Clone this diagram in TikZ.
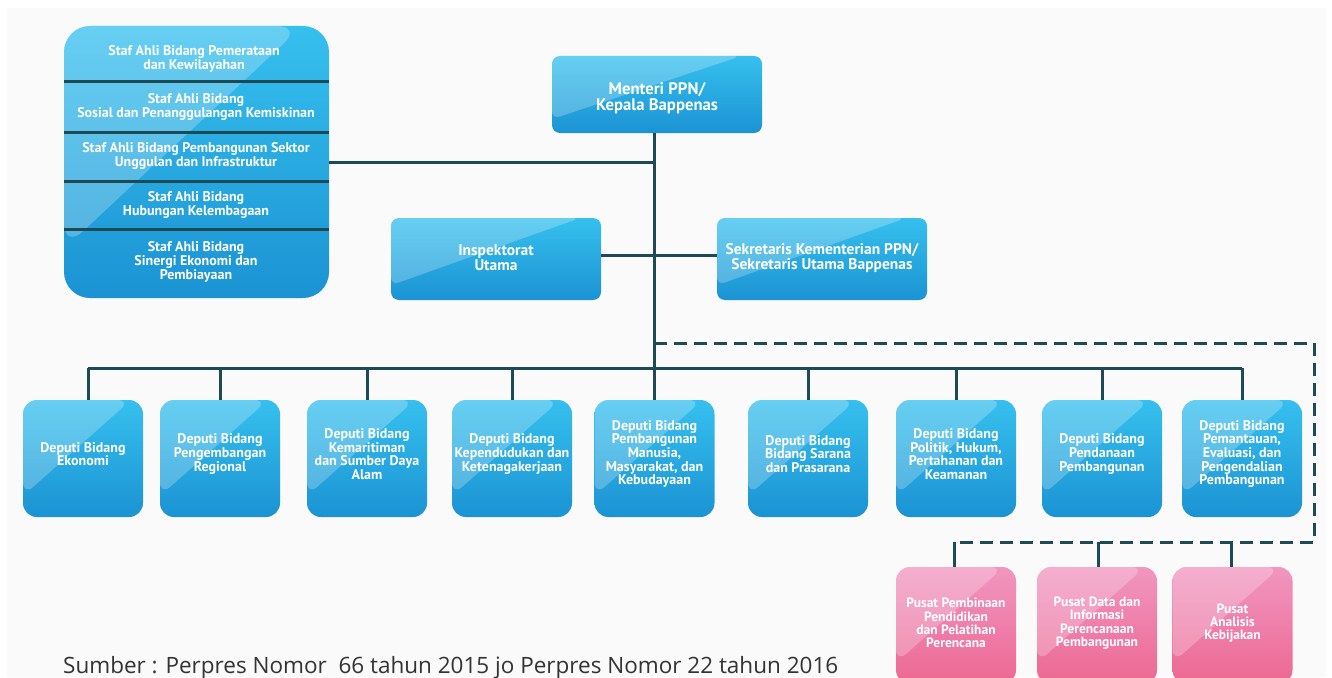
\documentclass[tikz,border=0pt]{standalone}
\usepackage{fontspec}
\setmainfont{Open Sans}
\newfontfamily\bx{PT Sans}
\usetikzlibrary{calc}
\definecolor{linec}{HTML}{1E4A54}
\definecolor{btop}{HTML}{36C0EE}
\definecolor{bbot}{HTML}{1B93D3}
\definecolor{ptop}{HTML}{F196C0}
\definecolor{pbot}{HTML}{EC6892}
\definecolor{bgc}{HTML}{FAFAFA}
\definecolor{footc}{HTML}{333333}
\tikzset{
  gloss/.style={path picture={\fill[white,opacity=0.24]
    ($(path picture bounding box.south west)!#1!(path picture bounding box.north west)$) --
    ($(path picture bounding box.north west)!0.9!(path picture bounding box.north east)$) --
    (path picture bounding box.north west) -- cycle;}},
  bbox/.style={draw=none, rounded corners=#1, top color=btop, bottom color=bbot, inner sep=0pt, gloss=0.18},
  pbox/.style={draw=none, rounded corners=14pt, top color=ptop, bottom color=pbot, inner sep=0pt, gloss=0.18,
    minimum width=120pt, minimum height=117pt},
  depbox/.style={bbox=14pt, minimum width=120pt, minimum height=117pt},
  txt/.style 2 args={text=white, align=center, inner sep=0pt, font=\bx\bfseries\fontsize{#1}{#2}\selectfont},
  conn/.style={draw=linec, line width=3pt},
  dconn/.style={draw=linec, line width=3pt, dash pattern=on 13pt off 7pt},
  divider/.style={draw=linec, line width=3pt},
}
\begin{document}
\begin{tikzpicture}[x=1pt,y=-1pt]
\useasboundingbox (0,0) rectangle (1332,677);
\clip (0,0) rectangle (1332,677);
\fill[white] (0,0) rectangle (1332,677);
\fill[bgc] (7,8) rectangle (1326,677);

% staff box
\node[bbox=26pt, minimum width=265pt, minimum height=272pt] (staf) at (196.5,162) {};
\foreach \yy in {81,132,181,229} \draw[divider] (staf.west |- 0,\yy) -- (staf.east |- 0,\yy);
\node[txt={14}{14}] (s1) at (194,59) {Staf Ahli Bidang Pemerataan\\dan Kewilayahan};
\node[txt={14}{14}] (s2) at (196,107) {Staf Ahli Bidang\\Sosial dan Penanggulangan Kemiskinan};
\node[txt={14}{14}] (s3) at (196,155.5) {Staf Ahli Bidang Pembangunan Sektor\\Unggulan dan Infrastruktur};
\node[txt={14}{14}] (s4) at (196,205) {Staf Ahli Bidang\\Hubungan Kelembagaan};
\node[txt={14}{14}] (s5) at (196,262) {Staf Ahli Bidang\\Sinergi Ekonomi dan\\Pembiayaan};

% top boxes
\node[bbox=8pt, minimum width=210pt, minimum height=77pt] (men) at (657,94.5) {};
\node[txt={16.7}{16}] (ment) at (657,98) {Menteri PPN/\\Kepala Bappenas};
\node[bbox=8pt, minimum width=210pt, minimum height=82pt] (insp) at (496,259) {};
\node[txt={15.5}{15}] (inspt) at (496,258) {Inspektorat\\Utama};
\node[bbox=8pt, minimum width=210pt, minimum height=82pt] (sek) at (822,259) {};
\node[txt={15.5}{15}] (sekt) at (822,258) {Sekretaris Kementerian PPN/\\Sekretaris Utama Bappenas};

% deputi boxes
\foreach \n/\xx/\t in {
  d1/83/{Deputi Bidang\\Ekonomi},
  d2/220/{Deputi Bidang\\Pengembangan\\Regional},
  d3/367/{Deputi Bidang\\Kemaritiman\\dan Sumber Daya\\Alam},
  d4/512/{Deputi Bidang\\Kependudukan dan\\Ketenagakerjaan},
  d5/654.5/{Deputi Bidang\\Pembangunan\\Manusia,\\Masyarakat, dan\\Kebudayaan},
  d6/808/{Deputi Bidang\\Bidang Sarana\\dan Prasarana},
  d7/956/{Deputi Bidang\\Politik, Hukum,\\Pertahanan dan\\Keamanan},
  d8/1102/{Deputi Bidang\\Pendanaan\\Pembangunan},
  d9/1242/{Deputi Bidang\\Pemantauan,\\Evaluasi, dan\\Pengendalian\\Pembangunan}} {
  \node[depbox] (\n) at (\xx,458.5) {};
  \node[txt={14}{13.6}] (\n t) at (\xx,454) {\t};
}

% pusat boxes
\foreach \n/\xx/\t in {
  p1/956/{Pusat Pembinaan\\Pendidikan\\dan Pelatihan\\Perencana},
  p2/1097/{Pusat Data dan\\Informasi\\Perencanaan\\Pembangunan},
  p3/1232.5/{Pusat\\Analisis\\Kebijakan}} {
  \node[pbox] (\n) at (\xx,625.5) {};
  \node[txt={13.5}{13.3}] (\n t) at (\xx,623) {\t};
}

% connectors
\coordinate (bus) at (654,368);
\coordinate (dtop) at (654,343);
\coordinate (dright) at (1314,343);
\coordinate (dbot) at (1314,542);
\draw[conn] (men.south -| bus) -- (d5.north -| bus);
\draw[conn] (staf.east) -- (staf.east -| bus);
\draw[conn] ([yshift=4pt]insp.east) -- ([yshift=4pt]sek.west);
\draw[conn] ([xshift=5pt]d1.north |- bus) -- (d9.north |- bus);
\draw[conn] ([xshift=5pt]d1.north |- bus) -- ([xshift=5pt]d1.north);
\foreach \n in {d2,d3,d4,d6,d7,d8,d9} \draw[conn] (\n.north |- bus) -- (\n.north);
\draw[dconn] (dtop) -- (dright) -- (dbot) -- ([xshift=-2pt]p1.north |- dbot);
\foreach \n/\s in {p1/-2,p2/1,p3/-1} \draw[conn] ([xshift=\s pt]\n.north |- dbot) -- ([xshift=\s pt]\n.north);

% source
\node[anchor=base west, inner sep=0pt, text=footc, font=\fontsize{22.5}{26}\selectfont] (src) at (63,673)
  {Sumber : Perpres Nomor\ \ 66 tahun 2015 jo Perpres Nomor 22 tahun 2016};
\end{tikzpicture}
\end{document}
